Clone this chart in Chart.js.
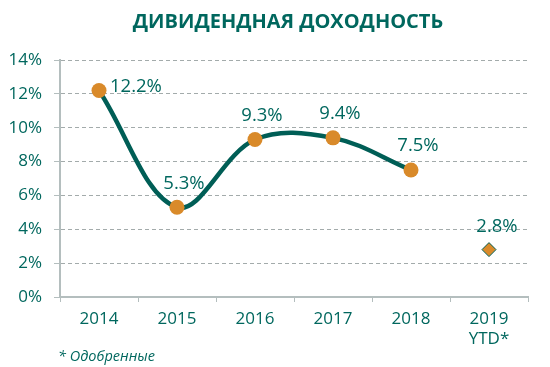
<!DOCTYPE html>
<html>
<head>
<meta charset="utf-8">
<script src="https://cdn.jsdelivr.net/npm/chart.js@4"></script>
<style>
html,body{margin:0;padding:0;background:#fff;}
#wrap{width:550px;height:367px;position:relative;}
</style>
</head>
<body>
<div id="wrap"><canvas id="c" width="550" height="367"></canvas></div>
<script>
const title = "ДИВИДЕНДНАЯ ДОХОДНОСТЬ";
const footnote = "* Одобренные";
const categories = [["2014"], ["2015"], ["2016"], ["2017"], ["2018"], ["2019", "YTD*"]];
const yieldValues = [12.2, 5.3, 9.3, 9.4, 7.5, null];
const ytdValues = [null, null, null, null, null, 2.8];
const yTicks = [0, 2, 4, 6, 8, 10, 12, 14];

const TEAL = "#00675e";
const LINE = "#005e56";
const ORANGE = "#d98a2a";
const FONT = "'Open Sans', 'DejaVu Sans', sans-serif";

// label placement style per series point
const labelPlace = ["right", "top", "top", "top", "top"];

const extras = {
  id: "extras",
  afterDraw(chart) {
    const ctx = chart.ctx;
    ctx.save();
    ctx.fillStyle = TEAL;
    ctx.font = "bold 20px " + FONT;
    ctx.textAlign = "center";
    ctx.textBaseline = "middle";
    ctx.fillText(title, 288, 22);
    ctx.font = "italic 14.5px " + FONT;
    ctx.textAlign = "left";
    ctx.fillText(footnote, 58, 357);

    ctx.font = "18.5px " + FONT;
    const m0 = chart.getDatasetMeta(0);
    m0.data.forEach((pt, i) => {
      const v = yieldValues[i];
      if (v == null) return;
      const txt = v.toFixed(1) + "%";
      if (labelPlace[i] === "right") {
        ctx.textAlign = "left";
        ctx.fillText(txt, pt.x + 11, pt.y - 4);
      } else {
        ctx.textAlign = "center";
        ctx.fillText(txt, pt.x + 7, pt.y - 24);
      }
    });
    const m1 = chart.getDatasetMeta(1);
    m1.data.forEach((pt, i) => {
      const v = ytdValues[i];
      if (v == null) return;
      ctx.textAlign = "center";
      ctx.fillText(v.toFixed(1) + "%", pt.x + 8, pt.y - 23);
    });
    ctx.restore();
  }
};

new Chart(document.getElementById("c"), {
  type: "line",
  data: {
    labels: categories,
    datasets: [
      {
        data: yieldValues,
        borderColor: LINE,
        borderWidth: 4.5,
        tension: 0.36,
        pointRadius: 7.5,
        pointHoverRadius: 7.5,
        pointBackgroundColor: ORANGE,
        pointBorderWidth: 0,
        pointBorderColor: ORANGE,
        fill: false,
        spanGaps: false
      },
      {
        data: ytdValues,
        showLine: false,
        pointStyle: "rectRot",
        pointRadius: 7,
        pointBackgroundColor: ORANGE,
        pointBorderColor: LINE,
        pointBorderWidth: 1
      }
    ]
  },
  options: {
    responsive: false,
    animation: false,
    layout: { padding: { top: 60, right: 22, left: 0, bottom: 0 } },
    plugins: { legend: { display: false }, tooltip: { enabled: false } },
    scales: {
      x: {
        offset: true,
        afterFit(s) { s.height = 70; },
        grid: { display: true, drawOnChartArea: false, drawTicks: true, tickLength: 5, color: "#b4bebe", offset: true },
        border: { display: true, color: "#b4bebe", width: 2 },
        ticks: { color: TEAL, font: { family: FONT, size: 17 }, padding: 7, maxRotation: 0 }
      },
      y: {
        min: 0,
        max: 14,
        afterFit(s) { s.width = 60; },
        afterBuildTicks(s) { s.ticks = yTicks.map(v => ({ value: v })); },
        grid: { color: "#a3abab", tickLength: 6, tickColor: "#b4bebe", tickBorderDash: [] },
        border: { display: true, color: "#b4bebe", width: 2, dash: [4, 3] },
        ticks: { color: TEAL, font: { family: FONT, size: 17 }, padding: 12, callback: v => v + "%" }
      }
    }
  },
  plugins: [extras]
});
</script>
</body>
</html>
